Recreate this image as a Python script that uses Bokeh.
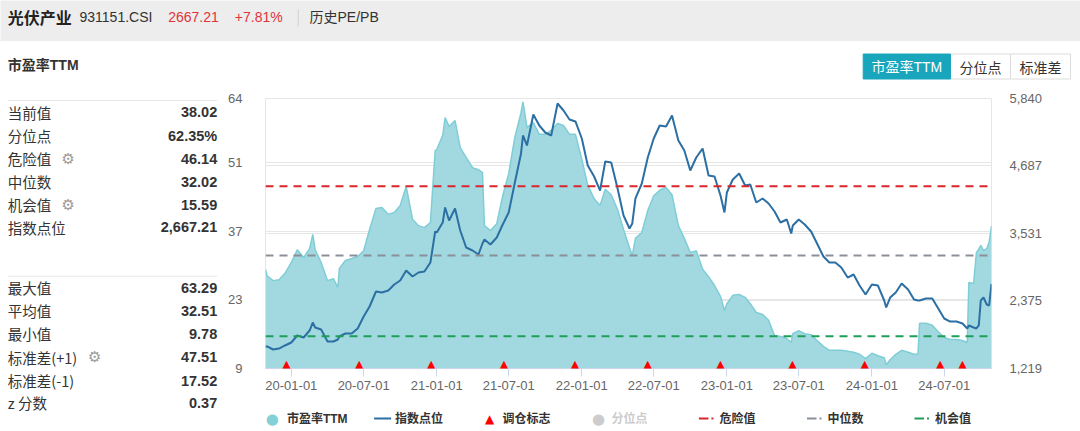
import pandas as pd
from bokeh.plotting import figure
from bokeh.layouts import column, row
from bokeh.models import (Range1d, LinearAxis, FixedTicker, DatetimeTickFormatter,
                          Span, Label, LabelSet, ColumnDataSource, Grid)
from bokeh.core.properties import value
from bokeh.embed import file_html
from bokeh.resources import INLINE

# ---------------- data ----------------
dates = [
    "2019-10-28", "2019-11-01", "2019-11-16", "2019-12-01", "2019-12-16",
    "2020-01-01", "2020-01-16", "2020-02-01", "2020-02-16", "2020-02-24", "2020-03-01", "2020-03-16",
    "2020-04-01", "2020-04-16", "2020-04-27", "2020-05-01", "2020-05-16", "2020-06-01", "2020-06-16",
    "2020-07-01", "2020-07-16", "2020-08-01", "2020-08-16", "2020-09-01", "2020-09-16", "2020-10-01",
    "2020-10-16", "2020-11-01", "2020-11-16", "2020-12-01", "2020-12-16", "2020-12-28",
    "2021-01-01", "2021-01-16", "2021-01-22", "2021-02-01", "2021-02-16", "2021-03-01", "2021-03-16",
    "2021-04-01", "2021-04-16", "2021-04-26", "2021-05-01", "2021-05-16", "2021-06-01", "2021-06-16",
    "2021-07-01", "2021-07-16", "2021-08-01", "2021-08-06", "2021-08-16", "2021-09-01", "2021-09-16",
    "2021-10-01", "2021-10-16", "2021-11-01", "2021-11-16", "2021-12-01", "2021-12-16",
    "2022-01-01", "2022-01-16", "2022-02-01", "2022-02-16", "2022-03-01", "2022-03-16", "2022-04-01",
    "2022-04-16", "2022-05-01", "2022-05-08", "2022-05-16", "2022-06-01", "2022-06-16", "2022-07-01",
    "2022-07-16", "2022-08-01", "2022-08-16", "2022-09-01", "2022-09-16", "2022-10-01", "2022-10-16",
    "2022-11-01", "2022-11-16", "2022-12-01", "2022-12-16", "2022-12-26",
    "2023-01-01", "2023-01-16", "2023-02-01", "2023-02-16", "2023-03-01", "2023-03-16", "2023-04-01",
    "2023-04-16", "2023-05-01", "2023-05-16", "2023-06-01", "2023-06-12", "2023-06-16", "2023-07-01",
    "2023-07-16", "2023-08-01", "2023-08-16", "2023-09-01", "2023-09-16", "2023-10-01", "2023-10-16",
    "2023-11-01", "2023-11-16", "2023-12-01", "2023-12-16",
    "2024-01-01", "2024-01-16", "2024-02-01", "2024-02-06", "2024-02-16", "2024-03-01", "2024-03-16",
    "2024-04-01", "2024-04-16", "2024-04-26", "2024-04-30", "2024-05-16", "2024-06-01", "2024-06-16",
    "2024-07-01", "2024-07-16", "2024-08-01", "2024-08-16", "2024-08-28", "2024-09-01", "2024-09-13",
    "2024-09-20", "2024-09-26", "2024-10-01", "2024-10-08", "2024-10-16", "2024-10-22", "2024-10-28",
]

pe_ttm = [
    29.2, 27.9, 26.9, 27.1, 28.4,
    30.6, 33.2, 31.6, 33.4, 36.3, 33.2, 30.6, 26.9, 27.3, 25.5, 29.4, 31.0, 31.4, 31.8,
    33.0, 37.3, 41.6, 41.8, 40.4, 40.8, 42.2, 46.1, 39.4, 38.1, 37.7, 38.7, 53.4,
    53.6, 56.5, 60.1, 58.3, 59.5, 54.0, 52.0, 49.9, 49.5, 48.9, 38.1, 37.1, 38.5, 44.2,
    48.7, 55.9, 61.1, 63.29, 58.1, 59.1, 56.7, 56.7, 57.5, 58.9, 58.5, 56.7, 56.7,
    51.6, 46.3, 43.6, 42.2, 45.5, 44.4, 41.4, 37.3, 33.6, 32.0, 35.5, 36.7, 41.2,
    44.2, 45.3, 45.9, 44.4, 38.1, 35.5, 32.6, 33.0, 29.2, 27.7, 25.9, 23.7, 20.8,
    22.2, 23.9, 24.1, 23.5, 22.2, 20.4, 20.0, 18.8, 15.7, 15.5, 15.1, 14.3, 16.1,
    16.7, 16.1, 15.9, 14.7, 13.5, 12.7, 12.7, 12.7, 12.5, 12.3, 11.9, 11.0,
    12.1, 11.6, 11.2, 9.78, 10.8, 11.9, 12.7, 12.3, 11.9, 11.9, 18.2, 18.2, 17.8, 16.5,
    15.3, 14.9, 14.9, 14.7, 14.3, 26.5, 26.3, 32.6, 33.3, 34.1, 33.0, 33.4, 34.7, 38.02,
]

index_points = [
    1596, 1596, 1544, 1561, 1613,
    1664, 1784, 1750, 1869, 2006, 1921, 1886, 1681, 1681, 1715, 1767, 1818, 1818, 1904,
    2109, 2280, 2537, 2520, 2554, 2657, 2725, 2896, 2794, 2862, 2879, 3033, 3564,
    3547, 3718, 3975, 3752, 3957, 3581, 3290, 3239, 3170, 3358, 3427, 3341, 3461, 3684,
    3889, 4385, 4899, 5207, 5036, 5566, 5378, 5258, 5207, 5754, 5635, 5481, 5447,
    5155, 4693, 4505, 4265, 4762, 4745, 4300, 3838, 3615, 3701, 4129, 4385, 4830,
    5155, 5378, 5361, 5549, 5121, 4950, 4608, 4830, 4984, 4522, 4505, 4180, 3889,
    4231, 4454, 4556, 4351, 4368, 4060, 4129, 4043, 3906, 3718, 3769, 3530, 3666,
    3769, 3684, 3564, 3358, 3136, 3033, 3033, 2948, 2776, 2828, 2640, 2486,
    2657, 2640, 2383, 2263, 2434, 2520, 2674, 2571, 2400, 2383, 2383, 2417, 2417, 2246,
    2075, 2023, 2023, 1989, 1904, 1955, 1921, 1904, 1955, 2383, 2434, 2314, 2297, 2667.21,
]

rebalance_dates = ["2019-12-20", "2020-06-20", "2020-12-18", "2021-06-19", "2021-12-15", "2022-06-16",
                   "2022-12-16", "2023-06-15", "2023-12-14", "2024-06-21", "2024-08-16"]

x_tick_dates = ["2020-01-01", "2020-07-01", "2021-01-01", "2021-07-01", "2022-01-01", "2022-07-01",
                "2023-01-01", "2023-07-01", "2024-01-01", "2024-07-01"]
x_tick_labels = ["20-01-01", "20-07-01", "21-01-01", "21-07-01", "22-01-01", "22-07-01",
                 "23-01-01", "23-07-01", "24-01-01", "24-07-01"]
pe_ticks = [9, 23, 37, 51, 64]
idx_ticks = [1219, 2375, 3531, 4687, 5840]
idx_tick_labels = ["1,219", "2,375", "3,531", "4,687", "5,840"]

danger_value, median_value, chance_value = 46.14, 32.02, 15.59

stat_names_top = ["当前值", "分位点", "危险值", "中位数", "机会值", "指数点位"]
stat_values_top = ["38.02", "62.35%", "46.14", "32.02", "15.59", "2,667.21"]
stat_names_bottom = ["最大值", "平均值", "最小值", "标准差(+1)", "标准差(-1)", "z 分数"]
stat_values_bottom = ["63.29", "32.51", "9.78", "47.51", "17.52", "0.37"]

header_name, header_code, header_price, header_change = "光伏产业", "931151.CSI", "2667.21", "+7.81%"
header_link = "历史PE/PB"
panel_title = "市盈率TTM"
buttons = ["市盈率TTM", "分位点", "标准差"]
legend_names = ["市盈率TTM", "指数点位", "调仓标志", "分位点", "危险值", "中位数", "机会值"]

assert len(dates) == len(pe_ttm) == len(index_points)

# ---------------- styling ----------------
LATIN = "Liberation Sans, Noto Sans CJK SC"
CJK = "Noto Sans CJK SC"
AREA_FILL = "#a2d9e0"
AREA_LINE = "#7fcdd7"
IDX_COLOR = "#2b6fa3"
RED_D, GRAY_D, GREEN_D = "#d9262c", "#8a8f98", "#1f9e57"
TEXT = "#333333"


class Deco:
    """A plain figure whose data units are page pixels (origin ox, oy at top-left)."""

    def __init__(self, ox, oy, w, h, bg="#ffffff"):
        self.ox, self.oy, self.w, self.h = ox, oy, w, h
        f = figure(width=w, height=h, x_range=Range1d(0, w), y_range=Range1d(0, h),
                   output_backend="svg", toolbar_location=None, title=None,
                   x_axis_location=None, y_axis_location=None, min_border=0,
                   outline_line_color=None, background_fill_color=bg, border_fill_color=bg,
                   frame_align=False)
        f.grid.visible = False
        self.f = f

    def X(self, rx):
        return rx - self.ox

    def Y(self, ry):
        return self.oy + self.h - ry

    def box(self, l, r, t, b, fill, line=None):
        self.f.quad(left=self.X(l), right=self.X(r), top=self.Y(t), bottom=self.Y(b),
                    fill_color=fill, line_color=line, line_width=1)

    def txt(self, rx, ry, s, size="14px", color=TEXT, font=LATIN, style="normal", align="left"):
        self.f.add_layout(Label(x=self.X(rx), y=self.Y(ry), text=s, text_font_size=size,
                                text_color=color, text_font=font, text_font_style=style,
                                text_align=align, text_baseline="middle"))


# ---------------- header ----------------
hd = Deco(0, 0, 1080, 41, bg="#ededed")
hd.box(297.2, 298.2, 9, 26, "#d0d0d0")
hd.txt(7.3, 16.7, header_name, size="16px", color="#222222", font=CJK, style="bold")
hd.txt(79, 16.7, header_code, size="14px", color=TEXT)
hd.txt(167.7, 16.7, header_price, size="14px", color="#e0343a")
hd.txt(234.3, 16.7, header_change, size="14px", color="#e0343a")
hd.txt(309, 16.7, header_link, size="14px", color=TEXT)

# ---------------- left panel ----------------
lp = Deco(0, 41, 225, 390)
lp.txt(7.3, 64.5, panel_title, size="14px", color=TEXT, style="bold")
lp.box(7.3, 216.7, 99.5, 100.5, "#e8e8e8")
lp.box(7.3, 216.7, 275.2, 276.2, "#e8e8e8")
rows_top = [111.7, 135, 158.3, 181, 204, 226.7]
rows_bottom = [287.3, 310, 333.3, 356.7, 380, 402.3]
for yy, n, v in zip(rows_top, stat_names_top, stat_values_top):
    lp.txt(7.3, yy, n, size="14.5px", font=CJK)
    lp.txt(216.7, yy, v, size="14.5px", style="bold", align="right")
for yy, n, v in zip(rows_bottom, stat_names_bottom, stat_values_bottom):
    lp.txt(7.3, yy, n, size="14.5px", font=CJK)
    lp.txt(216.7, yy, v, size="14.5px", style="bold", align="right")
for gx, gy in [(67.7, rows_top[2]), (67.7, rows_top[4]), (94.3, rows_bottom[3])]:
    lp.txt(gx, gy, "⚙", size="15px", color="#999999", font="DejaVu Sans", align="center")

# ---------------- buttons strip ----------------
st = Deco(225, 41, 855, 44)
st.box(950, 1010, 53.5, 78.5, "#ffffff", "#dcdcdc")
st.box(1010, 1070, 53.5, 78.5, "#ffffff", "#dcdcdc")
st.box(862.7, 950, 53.5, 78.5, "#19a6bd", "#19a6bd")
st.txt(906.3, 66, buttons[0], size="14px", color="#ffffff", align="center")
st.txt(980, 66, buttons[1], size="14px", font=CJK, align="center")
st.txt(1040, 66, buttons[2], size="14px", font=CJK, align="center")

# ---------------- chart ----------------
CW, CH = 855, 320            # chart figure occupies page x 225..1080, y 85..405
x = pd.to_datetime(dates)
src = ColumnDataSource(dict(x=x, pe=pe_ttm, idx=index_points))

p = figure(width=CW, height=CH, x_axis_type="datetime",
           x_range=Range1d(x[0], x[-1]), y_range=Range1d(pe_ticks[0], pe_ticks[-1]),
           output_backend="svg", toolbar_location=None, title=None,
           min_border_left=33, min_border_right=89, min_border_top=13, min_border_bottom=37,
           outline_line_color="#e6e6e6", background_fill_color="white", border_fill_color="white",
           frame_align=False)
p.extra_y_ranges = {"idx": Range1d(idx_ticks[0], idx_ticks[-1])}

p.xgrid.visible = False
p.ygrid.ticker = FixedTicker(ticks=pe_ticks)
p.ygrid.grid_line_color = "#e6e6e6"
p.add_layout(Grid(dimension=1, ticker=FixedTicker(ticks=idx_ticks), y_range_name="idx",
                  grid_line_color="#e6e6e6"))

p.varea(x="x", y1=pe_ticks[0], y2="pe", source=src, fill_color=AREA_FILL, fill_alpha=1)
p.line(x="x", y="pe", source=src, line_color=AREA_LINE, line_width=1.5)
p.line(x="x", y="idx", source=src, y_range_name="idx", line_color=IDX_COLOR, line_width=2)

for v, c in [(danger_value, RED_D), (median_value, GRAY_D), (chance_value, GREEN_D)]:
    p.add_layout(Span(location=v, dimension="width", line_color=c, line_width=2, line_dash="8 6"))

tri_src = ColumnDataSource(dict(x=pd.to_datetime(rebalance_dates),
                                y=[pe_ticks[0]] * len(rebalance_dates),
                                t=["▲"] * len(rebalance_dates)))
p.add_layout(LabelSet(x="x", y="y", text="t", source=tri_src, text_color="#ff0000",
                      text_font=value("DejaVu Sans"), text_font_size=value("13px"),
                      text_align="center", text_baseline="alphabetic", y_offset=0))

tick_ms = [pd.Timestamp(d).timestamp() * 1000 for d in x_tick_dates]
xa = p.xaxis[0]
xa.ticker = FixedTicker(ticks=tick_ms)
fmt = "%y-%m-%d"
xa.formatter = DatetimeTickFormatter(days=fmt, months=fmt, years=fmt, hours=fmt, minutes=fmt)
xa.major_label_overrides = dict(zip(tick_ms, x_tick_labels))
xa.axis_line_color = "#ccd6eb"
xa.major_tick_line_color = "#ccd6eb"
xa.major_tick_out = 8
xa.major_tick_in = 0
xa.minor_tick_line_color = None
xa.major_label_standoff = 4
xa.major_label_text_font = "Liberation Sans"
xa.major_label_text_font_size = "13px"
xa.major_label_text_color = "#666666"

ya = p.yaxis[0]
ya.ticker = FixedTicker(ticks=pe_ticks)
ya.axis_line_color = None
ya.major_tick_line_color = None
ya.minor_tick_line_color = None
ya.major_label_standoff = 17
ya.major_label_text_font = "Liberation Sans"
ya.major_label_text_font_size = "13px"
ya.major_label_text_color = "#666666"

ra = LinearAxis(y_range_name="idx", ticker=FixedTicker(ticks=idx_ticks),
                major_label_overrides=dict(zip(idx_ticks, idx_tick_labels)))
ra.axis_line_color = None
ra.major_tick_line_color = None
ra.minor_tick_line_color = None
ra.major_label_standoff = 12
ra.major_label_text_font = "Liberation Sans"
ra.major_label_text_font_size = "13px"
ra.major_label_text_color = "#666666"
p.add_layout(ra, "right")

# ---------------- legend strip ----------------
lg = Deco(225, 405, 855, 26)
LY = 418
lg.txt(271.8, LY, "●", size="15px", color="#84d0d9", font="DejaVu Sans", align="center")
lg.txt(286.4, LY, legend_names[0], size="12px", style="bold")
lg.box(373.6, 390.6, LY - 1, LY + 1, IDX_COLOR)
lg.txt(394.4, LY, legend_names[1], size="12px", style="bold")
lg.txt(489, LY, "▲", size="12px", color="#ff0000", font="DejaVu Sans", align="center")
lg.txt(502, LY, legend_names[2], size="12px", style="bold")
lg.txt(598, LY, "●", size="15px", color="#cccccc", font="DejaVu Sans", align="center")
lg.txt(611, LY, legend_names[3], size="12px", color="#cccccc", style="bold")
for x0, c, name in [(698.4, RED_D, legend_names[4]), (806.5, GRAY_D, legend_names[5]),
                    (914, GREEN_D, legend_names[6])]:
    lg.box(x0, x0 + 9.5, LY - 1, LY + 1, c)
    lg.box(x0 + 12.5, x0 + 14.5, LY - 1, LY + 1, c)
    lg.txt(x0 + 20.6, LY, name, size="12px", style="bold")

layout = column(hd.f, row(lp.f, column(st.f, p, lg.f)))
open("out.html", "w").write(file_html(layout, INLINE))
